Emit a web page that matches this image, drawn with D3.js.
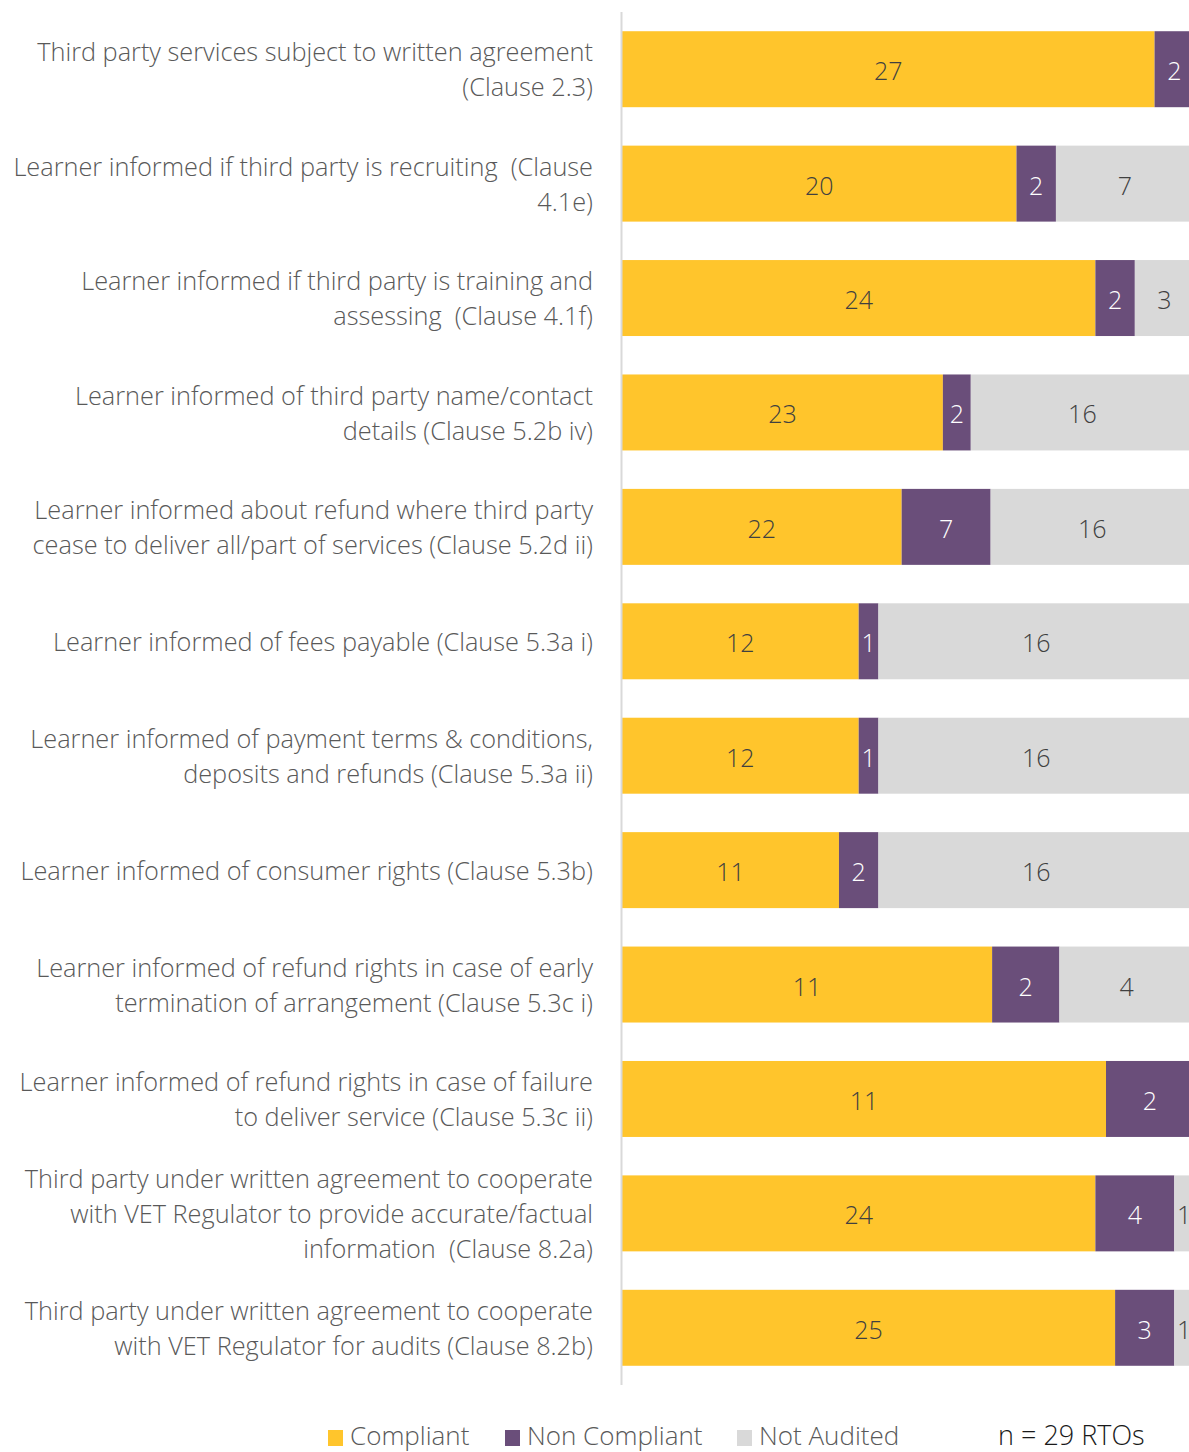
<!DOCTYPE html>
<html>
<head>
<meta charset="utf-8">
<script src="https://cdn.jsdelivr.net/npm/d3@7"></script>
<style>
  html, body { margin: 0; padding: 0; background: #fff; }
  svg { display: block; }
  text { font-family: "Open Sans", "Noto Sans", sans-serif; font-weight: 300; white-space: pre; }
</style>
</head>
<body>
<svg id="chart" width="1189" height="1452"></svg>
<script>
// Clause descriptions, one entry per row (lines as wrapped on the page)
const categories = [
  ["Third party services subject to written agreement", "(Clause 2.3)"],
  ["Learner informed if third party is recruiting  (Clause", "4.1e)"],
  ["Learner informed if third party is training and", "assessing  (Clause 4.1f)"],
  ["Learner informed of third party name/contact", "details (Clause 5.2b iv)"],
  ["Learner informed about refund where third party", "cease to deliver all/part of services (Clause 5.2d ii)"],
  ["Learner informed of fees payable (Clause 5.3a i)"],
  ["Learner informed of payment terms & conditions,", "deposits and refunds (Clause 5.3a ii)"],
  ["Learner informed of consumer rights (Clause 5.3b)"],
  ["Learner informed of refund rights in case of early", "termination of arrangement (Clause 5.3c i)"],
  ["Learner informed of refund rights in case of failure", "to deliver service (Clause 5.3c ii)"],
  ["Third party under written agreement to cooperate", "with VET Regulator to provide accurate/factual", "information  (Clause 8.2a)"],
  ["Third party under written agreement to cooperate", "with VET Regulator for audits (Clause 8.2b)"]
];

// Number of RTOs per outcome
const compliant    = [27, 20, 24, 23, 22, 12, 12, 11, 11, 11, 24, 25];
const nonCompliant = [ 2,  2,  2,  2,  7,  1,  1,  2,  2,  2,  4,  3];
const notAudited   = [ 0,  7,  3, 16, 16, 16, 16, 16,  4,  0,  1,  1];

const seriesNames = ["Compliant", "Non Compliant", "Not Audited"];
const footnote = "n = 29 RTOs";

const colors = { "Compliant": "#FFC52C", "Non Compliant": "#6A4E7A", "Not Audited": "#D9D9D9" };
const labelColors = { "Compliant": "#404040", "Non Compliant": "#FFFFFF", "Not Audited": "#404040" };

const rows = categories.map((c, i) => ({
  key: i,
  "Compliant": compliant[i],
  "Non Compliant": nonCompliant[i],
  "Not Audited": notAudited[i]
}));

const svg = d3.select("#chart");

const plotLeft = 622, plotRight = 1194, plotTop = 12, plotBottom = 1385;

// Each bar shows the share of its own row total
const stack = d3.stack().keys(seriesNames).offset(d3.stackOffsetExpand);
const layers = stack(rows);

const x = d3.scaleLinear().domain([0, 1]).range([plotLeft, plotRight]);
const y = d3.scaleBand().domain(rows.map(d => d.key)).range([plotTop, plotBottom]).paddingInner(0.336).paddingOuter(0.168);

const plot = svg.append("g");

const layerG = plot.selectAll("g.layer").data(layers).join("g")
  .attr("class", "layer")
  .attr("fill", d => colors[d.key]);

layerG.selectAll("rect").data(d => d.map(s => ({ s, key: d.key })))
  .join("rect")
  .attr("x", d => x(d.s[0]))
  .attr("y", d => y(d.s.data.key))
  .attr("width", d => Math.max(0, x(d.s[1]) - x(d.s[0])))
  .attr("height", y.bandwidth());

// Count labels centred inside each segment
layerG.selectAll("text").data(d => d.map(s => ({ s, key: d.key })).filter(d => d.s.data[d.key] > 0))
  .join("text")
  .attr("x", d => (x(d.s[0]) + x(d.s[1])) / 2)
  .attr("y", d => y(d.s.data.key) + y.bandwidth() / 2)
  .attr("dy", "0.44em")
  .attr("text-anchor", "middle")
  .attr("font-size", 25)
  .attr("fill", d => labelColors[d.key])
  .text(d => d.s.data[d.key]);

// Category axis line
const yAxis = d3.axisLeft(y).tickSize(0).tickFormat("");
const axisG = svg.append("g").attr("transform", `translate(${plotLeft - 0.5},0)`).call(yAxis);
axisG.select(".domain").attr("stroke", "#D9D9D9").attr("stroke-width", 2).attr("d", `M0,${plotTop}V${plotBottom}`);

// Category labels
const lineH = 35;
const catG = svg.append("g");
categories.forEach((lines, i) => {
  const cy = y(i) + y.bandwidth() / 2;
  const t = catG.append("text")
    .attr("text-anchor", "end")
    .attr("font-size", 25.3)
    .attr("fill", "#595959");
  lines.forEach((ln, j) => {
    t.append("tspan")
      .attr("x", 593)
      .attr("y", cy + (j - (lines.length - 1) / 2) * lineH)
      .attr("dy", "0.38em")
      .text(ln);
  });
});

// Legend
const legendY = 1436;
const legendX = [328, 505, 737];
const legend = svg.append("g");
seriesNames.forEach((name, i) => {
  legend.append("rect")
    .attr("x", legendX[i]).attr("y", legendY - 6)
    .attr("width", 15).attr("height", 16)
    .attr("fill", colors[name]);
  legend.append("text")
    .attr("x", legendX[i] + 22).attr("y", legendY)
    .attr("dy", "0.35em")
    .attr("font-size", 26)
    .attr("fill", "#595959")
    .text(name);
});
legend.append("text")
  .attr("x", 998).attr("y", legendY)
  .attr("dy", "0.35em")
  .attr("font-size", 27)
  .attr("fill", "#1a1a1a")
  .text(footnote);
</script>
</body>
</html>
